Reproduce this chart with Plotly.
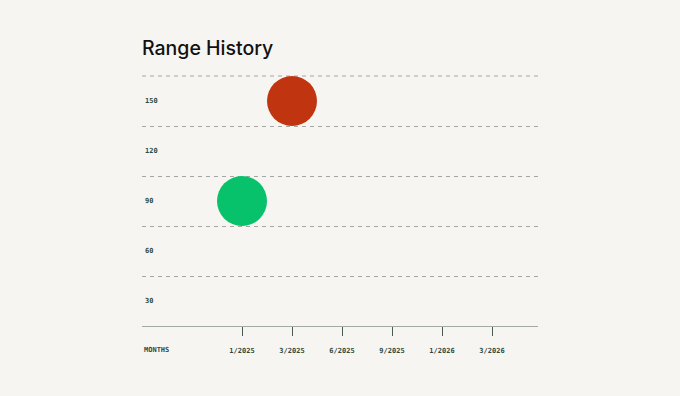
import plotly.graph_objects as go

# Data
months = ["1/2025", "3/2025", "6/2025", "9/2025", "1/2026", "3/2026"]
y_levels = ["30", "60", "90", "120", "150"]
point_months = ["3/2025", "1/2025"]
point_values = ["150", "90"]
point_colors = ["#c0350f", "#07c16b"]

BG = "#f7f5f1"
INK = "#2f4a3c"
GRID = "#a6a6a6"

fig = go.Figure()
fig.add_trace(go.Scatter(
    x=point_months, y=point_values, mode="markers",
    marker=dict(size=50, color=point_colors, line=dict(width=0), opacity=1),
    hoverinfo="skip", showlegend=False,
))

fig.update_layout(
    width=680, height=396,
    paper_bgcolor=BG, plot_bgcolor=BG,
    margin=dict(l=142, r=142, t=75, b=70),
    title=dict(text="Range History", x=142/680, xanchor="left", xref="container",
               y=1-48/396, yanchor="middle", yref="container",
               font=dict(family="Inter", size=19.5, color="#111111", weight=500)),
    xaxis=dict(type="category", categoryorder="array", categoryarray=months,
               range=[-2, 5.92], showgrid=False, zeroline=False,
               showline=True, linecolor="#a3aaa4", linewidth=1,
               ticks="outside", ticklen=9, tickcolor="#4a5a50", tickwidth=1,
               tickfont=dict(family="DejaVu Sans Mono", size=7, color=INK, weight="bold"),
               ticklabelstandoff=9, fixedrange=True),
    yaxis=dict(type="category", categoryorder="array", categoryarray=y_levels,
               range=[-0.5, 4.52], tickson="boundaries", showgrid=True,
               gridcolor=GRID, griddash="4px,4px", gridwidth=1,
               showline=False, zeroline=False, ticks="",
               ticklabelposition="inside",
               tickfont=dict(family="DejaVu Sans Mono", size=7, color=INK, weight="bold"),
               fixedrange=True),
    shapes=[dict(type="line", xref="paper", x0=0, x1=1, yref="y", y0=4.5, y1=4.5,
                 line=dict(color=GRID, width=1, dash="4px,4px"), layer="below")],
    annotations=[dict(text="MONTHS", xref="paper", yref="paper", x=0, y=-24/251,
                      xanchor="left", yanchor="middle", showarrow=False,
                      font=dict(family="DejaVu Sans Mono", size=7, color=INK, weight="bold"))],
)

fig.write_html("out.html", config={"displayModeBar": False},
               post_script="document.body.style.margin='0';document.body.style.background='#f7f5f1';")
